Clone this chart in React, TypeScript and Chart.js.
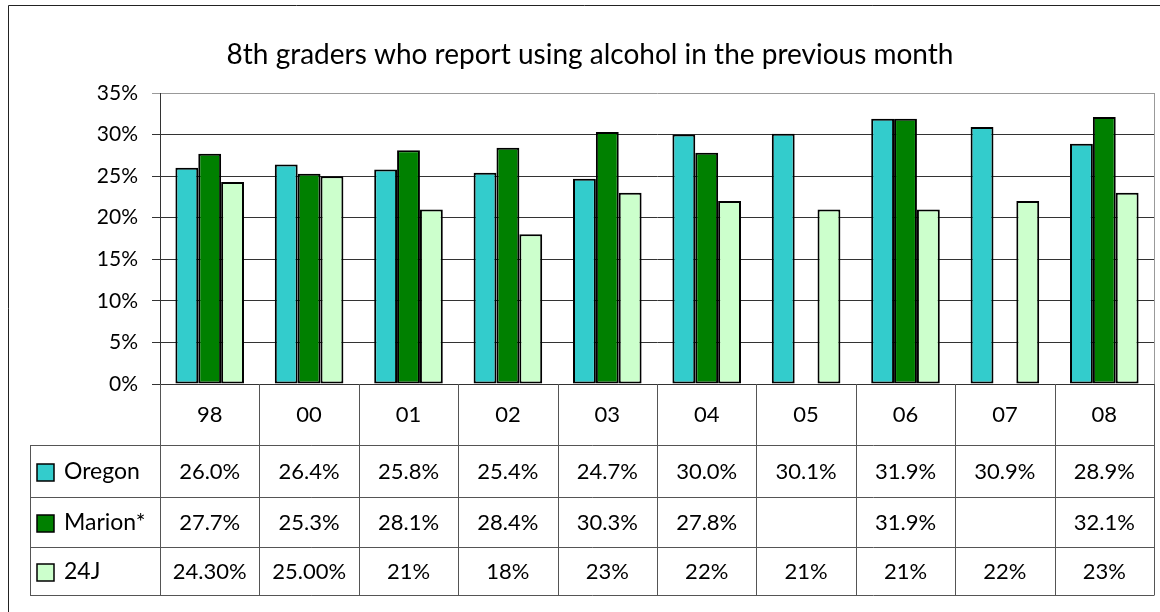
import React, { useEffect, useRef } from "react";
import { Chart, registerables } from "chart.js";

Chart.register(...registerables);

const TITLE = "8th graders who report using alcohol in the previous month";
const categories = ["98", "00", "01", "02", "03", "04", "05", "06", "07", "08"];
const oregon = [26.0, 26.4, 25.8, 25.4, 24.7, 30.0, 30.1, 31.9, 30.9, 28.9];
const marion = [27.7, 25.3, 28.1, 28.4, 30.3, 27.8, null, 31.9, null, 32.1];
const j24 = [24.3, 25.0, 21, 18, 23, 22, 21, 21, 22, 23];
const oregonLabels = ["26.0%", "26.4%", "25.8%", "25.4%", "24.7%", "30.0%", "30.1%", "31.9%", "30.9%", "28.9%"];
const marionLabels = ["27.7%", "25.3%", "28.1%", "28.4%", "30.3%", "27.8%", "", "31.9%", "", "32.1%"];
const j24Labels = ["24.30%", "25.00%", "21%", "18%", "23%", "22%", "21%", "21%", "22%", "23%"];
const seriesNames = ["Oregon", "Marion*", "24J"];
const seriesColors = ["#33CCCC", "#008000", "#CCFFCC"];
const yTicks = [0, 5, 10, 15, 20, 25, 30, 35];

const FONT = "Lato, 'Open Sans', sans-serif";

const tablePlugin = {
  id: "tablePlugin",
  afterDraw(chart: any) {
    const ctx = chart.ctx;
    const area = chart.chartArea;
    const n = categories.length;
    const w = (area.right - area.left) / n;
    const headerTop = area.bottom;
    const headerBottom = 445;
    const rowBottoms = [497, 547, 595];
    const tableLeft = 30;
    ctx.save();
    // outer border
    ctx.strokeStyle = "#222";
    ctx.lineWidth = 1;
    ctx.beginPath();
    ctx.moveTo(8.5, 612);
    ctx.lineTo(8.5, 5.5);
    ctx.lineTo(1160, 5.5);
    ctx.stroke();
    // title
    ctx.fillStyle = "#000";
    ctx.font = `28px ${FONT}`;
    ctx.textAlign = "center";
    ctx.textBaseline = "middle";
    ctx.fillText(TITLE, 590, 55);
    // plot right border
    ctx.strokeStyle = "#999";
    ctx.beginPath();
    ctx.moveTo(Math.round(area.right) + 0.5, area.top);
    ctx.lineTo(Math.round(area.right) + 0.5, area.bottom);
    ctx.stroke();
    // table lines
    ctx.strokeStyle = "#555";
    ctx.lineWidth = 1;
    ctx.beginPath();
    for (let i = 0; i <= n; i++) {
      const x = Math.round(area.left + i * w) + 0.5;
      ctx.moveTo(x, headerTop);
      ctx.lineTo(x, rowBottoms[2]);
    }
    ctx.moveTo(tableLeft + 0.5, headerBottom);
    ctx.lineTo(tableLeft + 0.5, rowBottoms[2]);
    for (const y of [headerBottom, ...rowBottoms]) {
      ctx.moveTo(tableLeft, y + 0.5);
      ctx.lineTo(Math.round(area.right) + 0.5, y + 0.5);
    }
    ctx.stroke();
    // header text
    ctx.fillStyle = "#000";
    ctx.font = `22px ${FONT}`;
    ctx.textAlign = "center";
    ctx.textBaseline = "middle";
    categories.forEach((c, i) => {
      ctx.fillText(c, area.left + (i + 0.5) * w, (headerTop + headerBottom) / 2);
    });
    const rowLabels = [oregonLabels, marionLabels, j24Labels];
    const rowTops = [headerBottom, rowBottoms[0], rowBottoms[1]];
    rowLabels.forEach((labels, r) => {
      const cy = (rowTops[r] + rowBottoms[r]) / 2 + 1;
      ctx.font = `22px ${FONT}`;
      labels.forEach((t, i) => {
        ctx.textAlign = "center";
        ctx.fillText(t, area.left + (i + 0.5) * w, cy);
      });
      // legend key
      ctx.fillStyle = seriesColors[r];
      ctx.fillRect(37, cy - 8, 17, 17);
      ctx.strokeStyle = "#000";
      ctx.lineWidth = 1.5;
      ctx.strokeRect(37, cy - 8, 17, 17);
      ctx.fillStyle = "#000";
      ctx.textAlign = "left";
      ctx.font = `23px ${FONT}`;
      ctx.fillText(seriesNames[r], 64, cy);
    });
    ctx.restore();
  },
};

export default function App() {
  const ref = useRef<HTMLCanvasElement | null>(null);
  useEffect(() => {
    if (!ref.current) return;
    const chart = new Chart(ref.current, {
      type: "bar",
      data: {
        labels: categories,
        datasets: [oregon, marion, j24].map((d, i) => ({
          label: seriesNames[i],
          data: d as any,
          backgroundColor: seriesColors[i],
          borderColor: "#000",
          borderWidth: 2,
          borderSkipped: false,
          categoryPercentage: 0.69,
          barPercentage: 1,
        })),
      },
      options: {
        animation: false,
        responsive: false,
        maintainAspectRatio: false,
        devicePixelRatio: 1,
        layout: { padding: { left: 0, top: 93, right: 6, bottom: 228 } },
        plugins: { legend: { display: false }, title: { display: false }, tooltip: { enabled: false } },
        scales: {
          x: { display: false },
          y: {
            min: 0,
            max: 35,
            afterBuildTicks: (s: any) => {
              s.ticks = yTicks.map((v) => ({ value: v }));
            },
            afterFit: (s: any) => {
              s.width = 160;
            },
            ticks: {
              callback: (v: any) => v + "%",
              color: "#000",
              font: { family: FONT, size: 21 },
              padding: 14,
            },
            grid: {
              color: (c: any) => (c.tick && c.tick.value === 35 ? "#999" : "#333"),
              tickLength: 8,
              drawTicks: true,
              lineWidth: 1,
            },
            border: { color: "#333", width: 1 },
          },
        },
      },
      plugins: [tablePlugin],
    });
    return () => chart.destroy();
  }, []);
  return (
    <div style={{ position: "absolute", left: 0, top: 0, width: 1160, height: 612, background: "#fff" }}>
      <canvas ref={ref} width={1160} height={612} style={{ width: 1160, height: 612 }} />
    </div>
  );
}
